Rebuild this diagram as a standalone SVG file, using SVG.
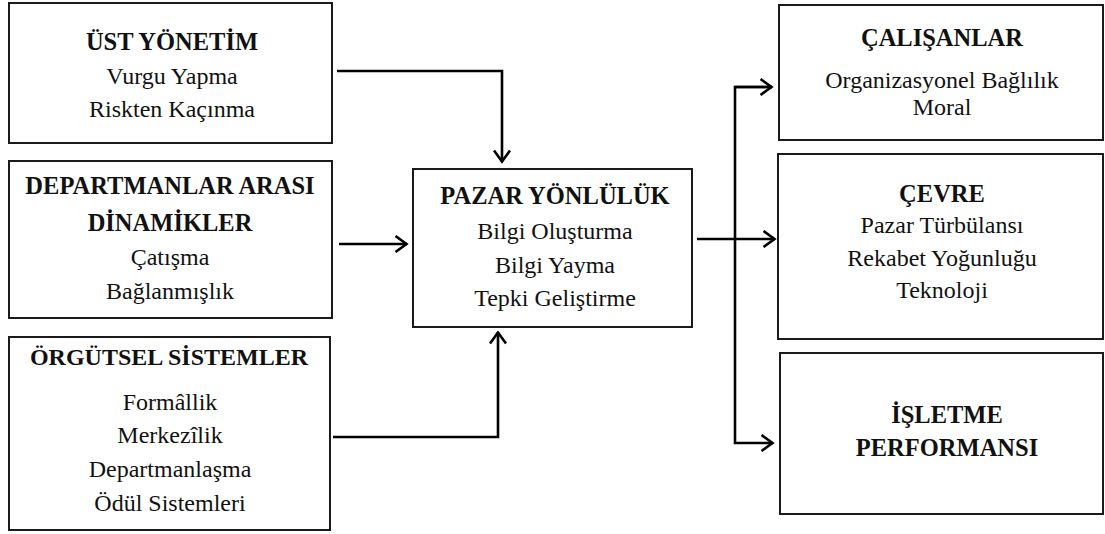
<svg xmlns="http://www.w3.org/2000/svg" width="1105" height="534" viewBox="0 0 1105 534">
  <style>
    .box { fill: #ffffff; stroke: #1a1a1a; stroke-width: 2; }
    .t { font-family: "Liberation Serif", "Times New Roman", serif; font-size: 24px; fill: #111; text-anchor: middle; }
    .h { font-weight: bold; font-size: 24.5px; }
    .wire { fill: none; stroke: #000; stroke-width: 2.6; }
  </style>
  <defs>
    <!-- open chevron arrowhead shared by all connectors -->
    <marker id="open-arrow" viewBox="0 0 14 18" refX="12.5" refY="9" markerWidth="14" markerHeight="18" markerUnits="userSpaceOnUse" orient="auto">
      <path d="M1,1 L12,9 L1,17" fill="none" stroke="#000" stroke-width="2.6"/>
    </marker>
  </defs>
  <rect width="1105" height="534" fill="#ffffff"/>

  <g id="ust-yonetim">
    <rect class="box" x="9" y="3" width="323" height="140"/>
    <text class="t h" x="172" y="50">ÜST YÖNETİM</text>
    <text class="t" x="172" y="84">Vurgu Yapma</text>
    <text class="t" x="172" y="117">Riskten Kaçınma</text>
  </g>

  <g id="departmanlar-arasi">
    <rect class="box" x="9" y="161" width="323" height="157"/>
    <text class="t h" x="170" y="194">DEPARTMANLAR ARASI</text>
    <text class="t h" x="170" y="231">DİNAMİKLER</text>
    <text class="t" x="170" y="265">Çatışma</text>
    <text class="t" x="170" y="299">Bağlanmışlık</text>
  </g>

  <g id="orgutsel-sistemler">
    <rect class="box" x="9" y="337" width="321" height="193"/>
    <text class="t h" x="169" y="365" style="font-size:24px">ÖRGÜTSEL SİSTEMLER</text>
    <text class="t" x="170" y="410">Formâllik</text>
    <text class="t" x="170" y="443">Merkezîlik</text>
    <text class="t" x="170" y="477">Departmanlaşma</text>
    <text class="t" x="170" y="511">Ödül Sistemleri</text>
  </g>

  <g id="pazar-yonluluk">
    <rect class="box" x="413" y="169" width="279" height="158"/>
    <text class="t h" x="555" y="204">PAZAR YÖNLÜLÜK</text>
    <text class="t" x="555" y="239">Bilgi Oluşturma</text>
    <text class="t" x="555" y="273">Bilgi Yayma</text>
    <text class="t" x="555" y="306">Tepki Geliştirme</text>
  </g>

  <g id="calisanlar">
    <rect class="box" x="779" y="5" width="324" height="135"/>
    <text class="t h" x="942" y="46">ÇALIŞANLAR</text>
    <text class="t" x="942" y="88">Organizasyonel Bağlılık</text>
    <text class="t" x="942" y="115">Moral</text>
  </g>

  <g id="cevre">
    <rect class="box" x="778" y="154" width="325" height="185"/>
    <text class="t h" x="942" y="202">ÇEVRE</text>
    <text class="t" x="942" y="233">Pazar Türbülansı</text>
    <text class="t" x="942" y="266">Rekabet Yoğunluğu</text>
    <text class="t" x="942" y="298">Teknoloji</text>
  </g>

  <g id="isletme-performansi">
    <rect class="box" x="780" y="353" width="323" height="161"/>
    <text class="t h" x="947" y="423">İŞLETME</text>
    <text class="t h" x="947" y="456">PERFORMANSI</text>
  </g>

  <g id="connectors">
    <path class="wire" d="M337,71 H502 V162" marker-end="url(#open-arrow)"/>
    <path class="wire" d="M339,244 H407" marker-end="url(#open-arrow)"/>
    <path class="wire" d="M333,437 H498 V332" marker-end="url(#open-arrow)"/>
    <path class="wire" d="M697,239 H775" marker-end="url(#open-arrow)"/>
    <path class="wire" d="M772,87 H735 V443 H773" marker-end="url(#open-arrow)"/>
    <path class="wire" d="M735,87 H772" marker-end="url(#open-arrow)"/>
  </g>
</svg>
